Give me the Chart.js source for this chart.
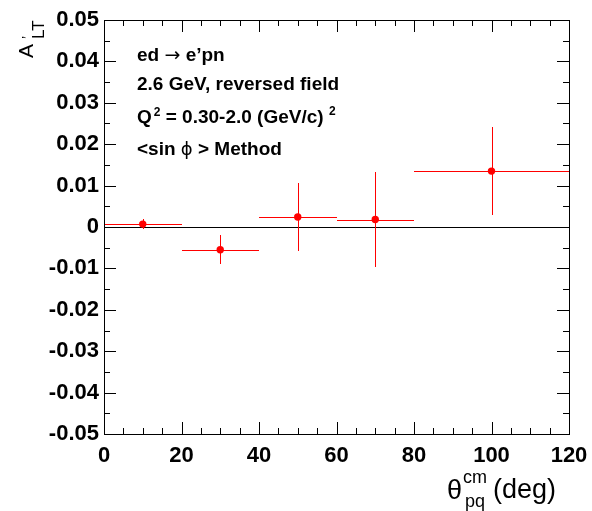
<!DOCTYPE html>
<html>
<head>
<meta charset="utf-8">
<script src="https://cdn.jsdelivr.net/npm/chart.js@4.4.0/dist/chart.umd.min.js"></script>
<style>
  html, body { margin: 0; padding: 0; background: #fff; }
</style>
</head>
<body>
<canvas id="myChart" width="592" height="511"></canvas>
<script>
// bins in theta_pq (deg): centre and half width
const thetaCenters = [10, 30, 50, 70, 100];
const thetaHalfWidth = [10, 10, 10, 10, 20];
// A'_LT per bin and its error
const altValues = [0.0007, -0.0055, 0.0024, 0.0018, 0.0135];
const altErrors = [0.0013, 0.0035, 0.0083, 0.0115, 0.0107];

const xTickValues = [0, 20, 40, 60, 80, 100, 120];
const xTickLabels = ['0', '20', '40', '60', '80', '100', '120'];
const yTickValues = [-0.05, -0.04, -0.03, -0.02, -0.01, 0, 0.01, 0.02, 0.03, 0.04, 0.05];
const yTickLabels = ['-0.05', '-0.04', '-0.03', '-0.02', '-0.01', '0', '0.01', '0.02', '0.03', '0.04', '0.05'];

const FAM = '"Liberation Sans", Arial, Helvetica, sans-serif';

// pixel centre for crisp 1px lines
const crisp = v => Math.round(v) + 0.5;

// draws a line of text made of pieces with their own font / vertical shift
function drawPieces(ctx, x, y, pieces) {
    pieces.forEach(p => {
        ctx.font = p.f;
        ctx.fillText(p.t, x, y + (p.dy || 0));
        x += ctx.measureText(p.t).width + (p.gap || 0);
    });
}

const rootStyle = {
    id: 'rootStyle',
    beforeDatasetsDraw(chart) {
        const ctx = chart.ctx;
        const x = chart.scales.x, y = chart.scales.y;
        ctx.save();
        // horizontal line at zero
        ctx.strokeStyle = '#000';
        ctx.lineWidth = 1;
        const y0 = crisp(y.getPixelForValue(0));
        ctx.beginPath();
        ctx.moveTo(x.left, y0);
        ctx.lineTo(x.right, y0);
        ctx.stroke();
        // error bars
        ctx.strokeStyle = '#ff0000';
        thetaCenters.forEach((c, i) => {
            const px = crisp(x.getPixelForValue(c));
            const py = crisp(y.getPixelForValue(altValues[i]));
            ctx.beginPath();
            ctx.moveTo(Math.round(x.getPixelForValue(c - thetaHalfWidth[i])), py);
            ctx.lineTo(Math.round(x.getPixelForValue(c + thetaHalfWidth[i])), py);
            ctx.moveTo(px, Math.round(y.getPixelForValue(altValues[i] - altErrors[i])));
            ctx.lineTo(px, Math.round(y.getPixelForValue(altValues[i] + altErrors[i])));
            ctx.stroke();
        });
        ctx.restore();
    },
    afterDraw(chart) {
        const ctx = chart.ctx;
        const x = chart.scales.x, y = chart.scales.y;
        const a = chart.chartArea;
        ctx.save();
        ctx.strokeStyle = '#000';
        ctx.lineWidth = 1;
        ctx.strokeRect(a.left + 0.5, a.top + 0.5, a.right - a.left, a.bottom - a.top);

        // ticks pointing inside the frame, on all four sides
        ctx.beginPath();
        for (let i = 0; i < xTickValues.length; i++) {
            const v = xTickValues[i];
            let px = crisp(x.getPixelForValue(v));
            ctx.moveTo(px, a.bottom); ctx.lineTo(px, a.bottom - 12);
            ctx.moveTo(px, a.top); ctx.lineTo(px, a.top + 12);
            if (i < xTickValues.length - 1) {
                const step = (xTickValues[i + 1] - v) / 4;
                for (let k = 1; k < 4; k++) {
                    px = crisp(x.getPixelForValue(v + k * step));
                    ctx.moveTo(px, a.bottom); ctx.lineTo(px, a.bottom - 6);
                    ctx.moveTo(px, a.top); ctx.lineTo(px, a.top + 6);
                }
            }
        }
        for (let i = 0; i < yTickValues.length; i++) {
            const v = yTickValues[i];
            let py = crisp(y.getPixelForValue(v));
            ctx.moveTo(a.left, py); ctx.lineTo(a.left + 12, py);
            ctx.moveTo(a.right, py); ctx.lineTo(a.right - 12, py);
            if (i < yTickValues.length - 1) {
                py = crisp(y.getPixelForValue((v + yTickValues[i + 1]) / 2));
                ctx.moveTo(a.left, py); ctx.lineTo(a.left + 6, py);
                ctx.moveTo(a.right, py); ctx.lineTo(a.right - 6, py);
            }
        }
        ctx.stroke();

        // labels inside the plot
        ctx.fillStyle = '#000';
        ctx.textAlign = 'left';
        ctx.textBaseline = 'alphabetic';
        const B = 'bold 19px ' + FAM;
        const N = '19px "DejaVu Sans", ' + FAM;
        const S = 'bold 12px ' + FAM;
        drawPieces(ctx, 137, 61, [{t: 'ed ', f: B}, {t: '\u2192', f: N}, {t: ' e\u2019pn', f: B}]);
        drawPieces(ctx, 137, 90, [{t: '2.6 GeV, reversed field', f: B}]);
        drawPieces(ctx, 137, 123, [{t: 'Q', f: B, gap: 2}, {t: '2', f: S, dy: -7},
            {t: ' = 0.30-2.0 (GeV/c) ', f: B}, {t: '2', f: S, dy: -8}]);
        drawPieces(ctx, 137, 155, [{t: '<sin ', f: B}, {t: '\u03D5', f: '18px "DejaVu Sans", ' + FAM}, {t: ' > Method', f: B}]);

        // x axis title
        drawPieces(ctx, 447, 499, [{t: '\u03B8', f: '27px ' + FAM}]);
        ctx.font = '18px ' + FAM;
        ctx.fillText('cm', 463, 483);
        ctx.fillText('pq', 465, 507);
        ctx.font = '27px ' + FAM;
        ctx.fillText('(deg)', 493, 498);

        // y axis title, rotated
        ctx.translate(33, 58);
        ctx.rotate(-Math.PI / 2);
        ctx.font = '21px ' + FAM;
        ctx.fillText('A', 0, 0);
        ctx.font = '14px ' + FAM;
        ctx.fillText('\u2019', 19, -1);
        ctx.font = '17px ' + FAM;
        ctx.fillText('LT', 19, 11);
        ctx.restore();
    }
};

const ctx = document.getElementById('myChart').getContext('2d');
const myChart = new Chart(ctx, {
    type: 'scatter',
    data: {
        datasets: [{
            data: thetaCenters.map((c, i) => ({x: c, y: altValues[i]})),
            pointRadius: 3.7,
            pointBackgroundColor: '#ff0000',
            pointBorderWidth: 0,
            showLine: false
        }]
    },
    options: {
        responsive: false,
        animation: false,
        layout: { padding: { left: 0, right: 23, top: 20, bottom: 0 } },
        plugins: {
            legend: { display: false },
            tooltip: { enabled: false }
        },
        scales: {
            x: {
                type: 'linear',
                min: 0,
                max: 120,
                grid: { display: false, drawTicks: false },
                border: { display: false },
                afterBuildTicks: s => { s.ticks = xTickValues.map(v => ({value: v})); },
                afterFit: s => { s.height = 77; s.paddingLeft = 0; s.paddingRight = 0; },
                ticks: {
                    padding: 9,
                    maxRotation: 0,
                    autoSkip: false,
                    color: '#000',
                    font: { family: FAM, size: 22, weight: 'bold' },
                    callback: (v, i) => xTickLabels[i]
                }
            },
            y: {
                type: 'linear',
                min: -0.05,
                max: 0.05,
                grid: { display: false, drawTicks: false },
                border: { display: false },
                afterBuildTicks: s => { s.ticks = yTickValues.map(v => ({value: v})); },
                afterFit: s => { s.width = 104; s.paddingTop = 0; s.paddingBottom = 0; },
                ticks: {
                    padding: 5,
                    autoSkip: false,
                    color: '#000',
                    font: { family: FAM, size: 22, weight: 'bold' },
                    callback: (v, i) => yTickLabels[i]
                }
            }
        }
    },
    plugins: [rootStyle]
});
</script>
</body>
</html>
